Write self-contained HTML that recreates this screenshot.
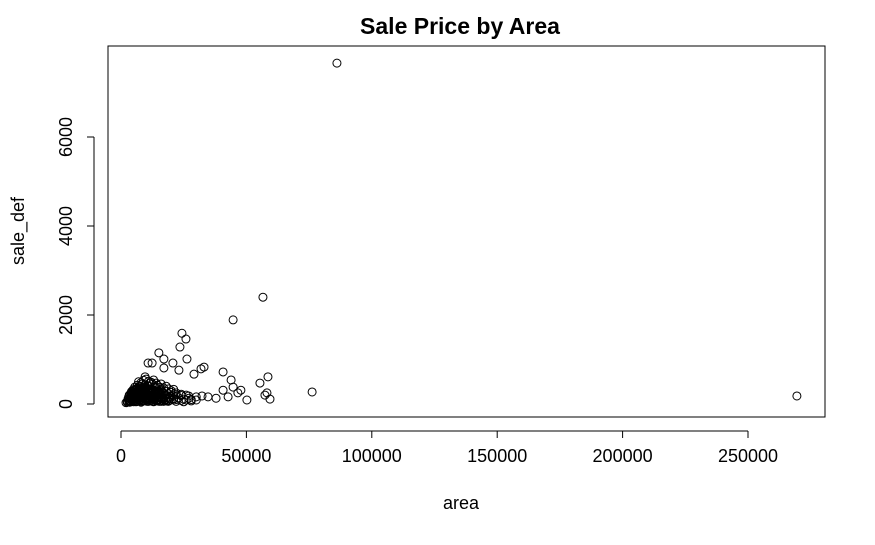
<!DOCTYPE html>
<html><head><meta charset="utf-8"><style>
body{margin:0;background:#fff}
svg text{font-family:"Liberation Sans",Arial,sans-serif}
</style></head><body>
<svg id="chart" width="875" height="540">
<rect width="875" height="540" fill="#fff"/>
<text x="460" y="34" font-size="23" font-weight="bold" text-anchor="middle">Sale Price by Area</text>
<rect x="108" y="46" width="717" height="371" fill="none" stroke="#000" stroke-width="1"/>
<g id="xaxis"></g>
<g id="yaxis"></g>
<text x="461" y="509" font-size="18" text-anchor="middle">area</text>
<text transform="translate(24,231) rotate(-90)" font-size="18" text-anchor="middle">sale_def</text>
<g id="points"></g>
</svg>
<script>
const xTicks=[0,50000,100000,150000,200000,250000];
const yTicks=[0,2000,4000,6000];
const area=[86100,269500,56600,44700,24300,25900,23500,15100,17100,26300,10800,12400,20700,33100,31900,40700,58600,43900,55400,29100,23100,17100,9600,76200,58200,57400,59400,50200,47800,44700,40700,42700,37900,34700,32300,46600,
2500,3000,3500,4000,4500,5000,5500,6000,6500,7000,7500,8000,8500,9000,9500,10000,10500,11000,11500,12000,12500,13000,13500,14000,14500,15000,16000,17000,18000,19000,20000,21000,22000,23000,24000,25000,26000,27000,28000,30000,
3000,4000,5000,6000,7000,8000,9000,10000,11000,12000,13000,14000,15000,16000,17000,18000,19000,20000,21000,22000,24000,26000,
4000,5000,6000,7000,8000,9000,10000,11000,12000,13000,14000,15000,16000,18000,20000,22000,
5500,6500,7500,8500,9500,10500,11500,12500,13500,14500,15500,17000,19000,21000,
7000,8000,9000,10000,11000,12000,13000,14000,16000,18000,
2000,3500,6000,8000,11000,13000,16000,19000,22000,25000,28000,30000,27000,24000,
2500,3200,3800,4400,5000,5600,6200,6800,7400,8000,8600,9200,9800,10400,11000,11600,12200,12800,13400,14000,14600,15200,15800,16400,17000,17600,18200,18800,
2800,3400,4000,4600,5200,5800,6400,7000,7600,8200,8800,9400,10000,10600,11200,11800,12400,13000,13600,14200,14800,15400,16000,17000,18000,19500,21000,
3300,3900,4500,5100,5700,6300,6900,7500,8100,8700,9300,9900,10500,11100,11700,12300,12900,13500,14100,14700,15300,16500,17500,
4200,4800,5400,6000,6600,7200,7800,8400,9000,9600,10200,10800,11400,12000,12600,13200,13800,14400,15600,
5000,5800,6600,7400,8200,9000,9800,10600,11400,12200,13000,13800];
const sale=[7660,180,2400,1890,1590,1460,1280,1150,1010,1010,920,920,920,830,790,720,610,540,470,670,760,810,610,270,250,200,110,90,310,380,310,160,130,160,180,250,
60,80,70,90,100,110,80,120,100,130,90,140,110,150,120,130,100,140,120,150,110,130,160,120,140,100,130,120,110,150,90,120,100,140,80,110,90,130,100,160,
150,180,200,220,240,200,260,230,280,250,210,240,270,220,250,200,230,260,180,210,190,200,
250,300,320,280,350,330,370,310,340,300,360,290,320,280,300,250,
380,420,400,450,430,410,470,440,390,420,380,360,340,330,
500,480,530,560,510,490,540,470,450,400,
30,40,50,40,60,50,60,70,60,50,70,90,180,220,
40,50,60,70,50,80,60,90,70,60,80,70,90,60,100,70,80,60,90,70,80,60,70,90,60,80,70,60,
110,130,150,120,170,140,160,180,150,190,170,160,200,180,170,190,160,180,170,150,160,140,150,130,140,120,110,
200,220,240,260,230,270,250,290,260,280,300,270,290,260,280,250,270,240,260,230,250,210,200,
280,320,300,340,360,330,380,350,370,340,360,320,340,310,330,290,300,270,260,
220,250,290,310,330,350,380,300,320,280,260,240];
const X=v=>121+v*(748-121)/250000;
const Y=v=>404-v*(404-137)/6000;
const ns="http://www.w3.org/2000/svg";
const xa=document.getElementById('xaxis'),ya=document.getElementById('yaxis'),pg=document.getElementById('points');
function mk(t,a,p){const e=document.createElementNS(ns,t);for(const k in a)e.setAttribute(k,a[k]);p.appendChild(e);return e;}
mk('line',{x1:X(0),x2:X(250000),y1:431,y2:431,stroke:'#000'},xa);
xTicks.forEach(t=>{
 mk('line',{x1:X(t),x2:X(t),y1:431,y2:438,stroke:'#000'},xa);
 const tx=mk('text',{x:X(t),y:462,'font-size':18,'text-anchor':'middle'},xa);
 tx.textContent=t;
 
 
});
mk('line',{x1:94,x2:94,y1:Y(0),y2:Y(6000),stroke:'#000'},ya);
yTicks.forEach(t=>{
 mk('line',{x1:87,x2:94,y1:Y(t),y2:Y(t),stroke:'#000'},ya);
 const tx=mk('text',{transform:`translate(72,${Y(t)}) rotate(-90)`,'font-size':18,'text-anchor':'middle'},ya);
 tx.textContent=t;
 
 
});
area.forEach((a,i)=>{
 const c=mk('circle',{cx:X(a),cy:Y(sale[i]),r:4,fill:'none',stroke:'#000','stroke-width':1},pg);
 
 
});
</script>
</body></html>
